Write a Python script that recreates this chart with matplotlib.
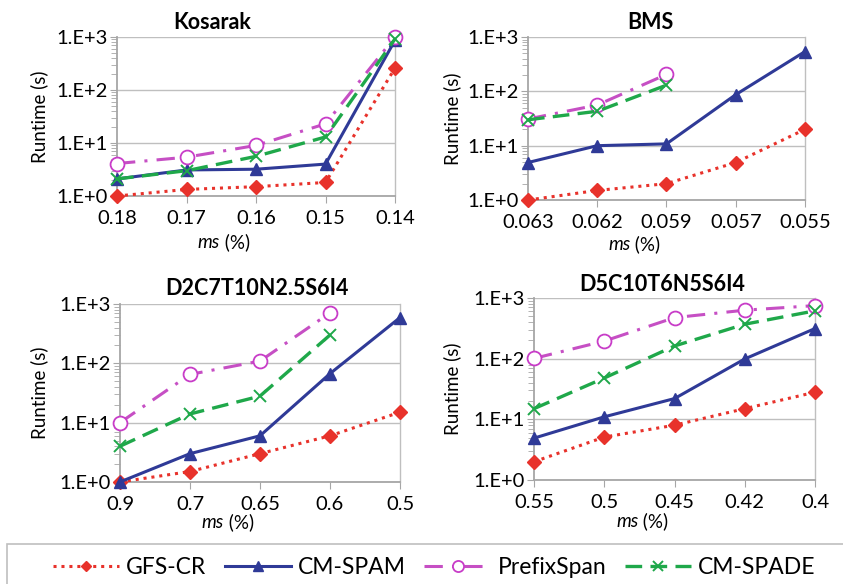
import matplotlib
matplotlib.use("Agg")
import matplotlib.pyplot as plt
from matplotlib.patches import Rectangle
from matplotlib.ticker import LogLocator, FixedLocator, NullFormatter

plt.rcParams['font.family'] = ['Lato', 'DejaVu Sans']

# ---- data -------------------------------------------------------------
kosarak_ms = ["0.18", "0.17", "0.16", "0.15", "0.14"]
kosarak_gfs = [1.0, 1.33, 1.5, 1.8, 260]
kosarak_spam = [2.1, 3.1, 3.2, 4.0, 870]
kosarak_prefix = [4.1, 5.4, 9.0, 23, 1000]
kosarak_spade = [2.1, 3.0, 5.6, 13, 920]

bms_ms = ["0.063", "0.062", "0.059", "0.057", "0.055"]
bms_gfs = [1.0, 1.5, 2.0, 4.9, 20]
bms_spam = [4.9, 10, 10.8, 87, 540]
bms_prefix = [31, 56, 205]
bms_spade = [30, 43, 130]

d2_ms = ["0.9", "0.7", "0.65", "0.6", "0.5"]
d2_gfs = [1.0, 1.5, 3.0, 6.0, 15]
d2_spam = [1.0, 3.0, 6.0, 67, 590]
d2_prefix = [10, 65, 109, 710]
d2_spade = [4.0, 14, 28, 300]

d5_ms = ["0.55", "0.5", "0.45", "0.42", "0.4"]
d5_gfs = [2.0, 5.1, 8.0, 15, 28]
d5_spam = [4.9, 11, 22, 99, 314]
d5_prefix = [101, 195, 475, 630, 750]
d5_spade = [15, 48, 162, 370, 615]

titles = ["Kosarak", "BMS", "D2C7T10N2.5S6I4", "D5C10T6N5S6I4"]
series_names = ["GFS-CR", "CM-SPAM", "PrefixSpan", "CM-SPADE"]
y_ticks = [1, 10, 100, 1000]
y_tick_labels = ["1.E+0", "1.E+1", "1.E+2", "1.E+3"]

panels = [
    (kosarak_ms, [kosarak_gfs, kosarak_spam, kosarak_prefix, kosarak_spade]),
    (bms_ms, [bms_gfs, bms_spam, bms_prefix, bms_spade]),
    (d2_ms, [d2_gfs, d2_spam, d2_prefix, d2_spade]),
    (d5_ms, [d5_gfs, d5_spam, d5_prefix, d5_spade]),
]

# ---- styles -----------------------------------------------------------
styles = [
    dict(color="#E8322B", linestyle=(0, (1, 1.6)), linewidth=2.2, marker="D",
         markersize=7, markerfacecolor="#E8322B", markeredgecolor="#E8322B"),
    dict(color="#2F3A97", linestyle="-", linewidth=2.2, marker="^",
         markersize=9, markerfacecolor="#2F3A97", markeredgecolor="#2F3A97"),
    dict(color="#C64FC4", linestyle=(0, (6, 3, 1, 3)), linewidth=2.2, marker="o",
         markersize=10, markerfacecolor="white", markeredgecolor="#C83CC8",
         markeredgewidth=1.3),
    dict(color="#1FA84A", linestyle=(0, (5, 2.5)), linewidth=2.4, marker="x",
         markersize=9, markeredgecolor="#1FA84A", markeredgewidth=1.4),
]

# axes rectangles in figure fraction [left, bottom, width, height]
rects = [
    [0.1388, 0.6644, 0.3298, 0.2722],
    [0.6263, 0.6575, 0.3286, 0.2791],
    [0.1423, 0.1747, 0.3322, 0.3048],
    [0.6335, 0.1781, 0.3333, 0.3116],
]
title_pos = [(0.252, 0.962), (0.772, 0.962), (0.305, 0.506), (0.785, 0.513)]
xlabel_y = [0.585, 0.581, 0.106, 0.107]
ylabel_x = [0.047, 0.536, 0.047, 0.536]

fig = plt.figure(figsize=(8.43, 5.84), dpi=100)
grid_color = "#BFBFBF"
axis_color = "#A6A6A6"
fs_tick = 14.5
fs_lab = 13.5

handles = None
for i, ((cats, series), rect) in enumerate(zip(panels, rects)):
    ax = fig.add_axes(rect)
    ax.set_yscale("log")
    hs = []
    for vals, st in zip(series, styles):
        x = list(range(len(vals)))
        h, = ax.plot(x, vals, clip_on=False, zorder=3, **st)
        hs.append(h)
    if handles is None:
        handles = hs
    ax.set_xlim(0, len(cats) - 1)
    ax.set_ylim(1, 1000)
    ax.set_xticks(range(len(cats)))
    ax.set_xticklabels(cats, fontsize=fs_tick)
    ax.yaxis.set_major_locator(FixedLocator(y_ticks))
    ax.set_yticklabels(y_tick_labels, fontsize=fs_tick)
    ax.yaxis.set_minor_locator(LogLocator(base=10, subs=range(2, 10)))
    ax.yaxis.set_minor_formatter(NullFormatter())
    ax.tick_params(axis="y", which="major", length=5, color=axis_color, pad=2)
    ax.tick_params(axis="y", which="minor", length=4, color=axis_color)
    ax.tick_params(axis="x", length=5, color=axis_color, pad=5)
    ax.grid(True, axis="y", which="major", color=grid_color, linewidth=1.0)
    ax.set_axisbelow(True)
    for s in ["left", "bottom"]:
        ax.spines[s].set_color(axis_color)
        ax.spines[s].set_linewidth(1.3)
    ax.spines["right"].set_color(grid_color)
    ax.spines["right"].set_linewidth(1.0)
    ax.spines["top"].set_visible(False)

    fig.text(title_pos[i][0], title_pos[i][1], titles[i], ha="center",
             va="center", fontsize=15.5, fontweight="bold")
    cx = rect[0] + rect[2] / 2
    fig.text(cx - 0.043, xlabel_y[i], "ms", style="italic", ha="right",
             va="center", fontsize=fs_lab)
    fig.text(cx - 0.043, xlabel_y[i], " (%)", ha="left", va="center",
             fontsize=fs_lab)
    fig.text(ylabel_x[i], rect[1] + rect[3] / 2, "Runtime (s)", rotation=90,
             ha="center", va="center", fontsize=fs_lab)

# legend frame and entries
fig.patches.append(Rectangle((0.008, -0.01), 1.0, 0.078, transform=fig.transFigure,
                             fill=False, edgecolor="#BFBFBF", linewidth=1.2))
fig.legend(handles, series_names, loc="center", bbox_to_anchor=(0.515, 0.028),
           ncol=4, frameon=False, fontsize=16.5, handlelength=2.9,
           columnspacing=0.8, handletextpad=0.3, markerscale=0.8)

fig.savefig("out.png", dpi=100)
